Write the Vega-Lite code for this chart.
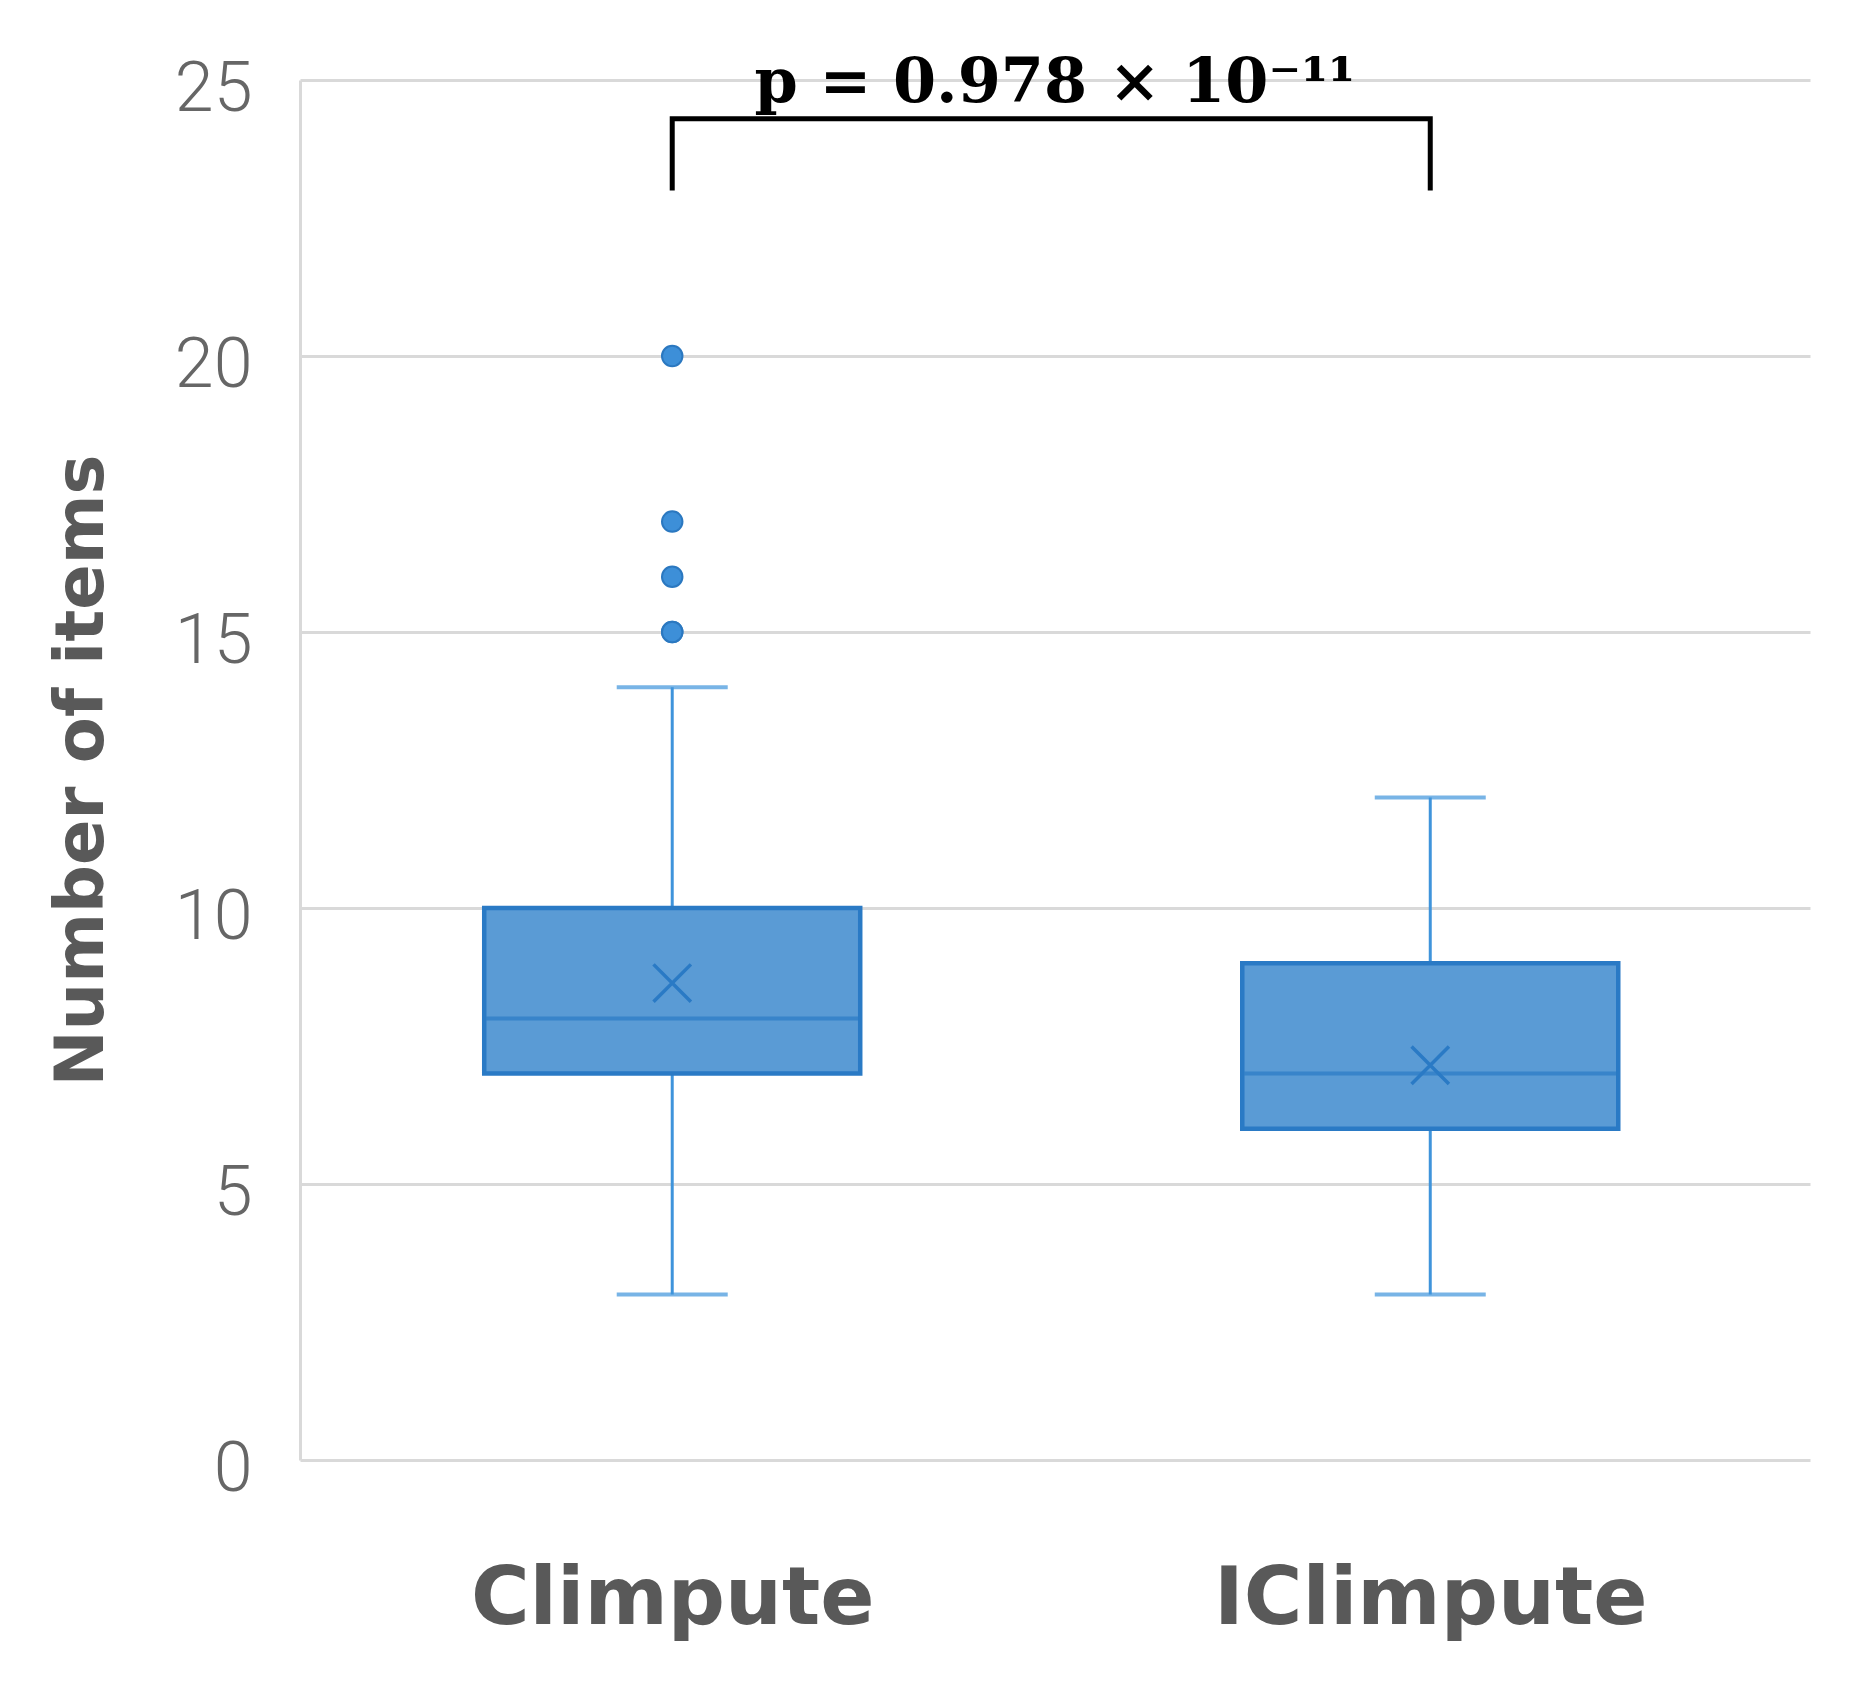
{
  "$schema": "https://vega.github.io/schema/vega-lite/v6.json",
  "autosize": {"type": "none"},
  "width": 1510,
  "height": 1380,
  "padding": {"left": 300, "top": 80, "right": 54, "bottom": 236},
  "background": "white",
  "title": {
    "text": "p = 0.978 × 10⁻¹¹",
    "font": "DejaVu Serif",
    "fontWeight": "bold",
    "fontSize": 62,
    "color": "#000000",
    "anchor": "middle",
    "frame": "group",
    "baseline": "alphabetic",
    "offset": 0,
    "dy": 110
  },
  "config": {
    "view": {"stroke": null},
    "axis": {"gridColor": "#D9D9D9", "gridWidth": 3}
  },
  "datasets": {
    "summary": [
      {"group": "Climpute", "lower": 3, "q1": 7, "median": 8, "q3": 10, "upper": 14, "mean": 8.64},
      {"group": "IClimpute", "lower": 3, "q1": 6, "median": 7, "q3": 9, "upper": 12, "mean": 7.15}
    ],
    "outliers": [
      {"group": "Climpute", "value": 15},
      {"group": "Climpute", "value": 15},
      {"group": "Climpute", "value": 16},
      {"group": "Climpute", "value": 17},
      {"group": "Climpute", "value": 20}
    ],
    "bracket": [
      {"group": "Climpute", "y": 23, "order": 1},
      {"group": "Climpute", "y": 24.3, "order": 2},
      {"group": "IClimpute", "y": 24.3, "order": 3},
      {"group": "IClimpute", "y": 23, "order": 4}
    ]
  },
  "encoding": {
    "x": {
      "field": "group",
      "type": "nominal",
      "sort": ["Climpute", "IClimpute"],
      "scale": {"type": "point", "padding": 0.496, "align": 0.495},
      "axis": {
        "title": null,
        "labelAngle": 0,
        "labelFont": "DejaVu Sans",
        "labelFontWeight": "bold",
        "labelFontSize": 80,
        "labelColor": "#595959",
        "labelBaseline": "alphabetic",
        "labelPadding": 163,
        "labelLimit": 0,
        "ticks": false,
        "tickSize": 0,
        "domain": false,
        "grid": false
      }
    }
  },
  "layer": [
    {
      "data": {"name": "summary"},
      "mark": {"type": "rule", "color": "#3F94DB", "strokeWidth": 3},
      "encoding": {
        "y": {
          "field": "lower",
          "type": "quantitative",
          "scale": {"domain": [0, 25], "nice": false},
          "axis": {
            "title": "Number of items",
            "titleFont": "DejaVu Sans",
            "titleFontWeight": "bold",
            "titleFontSize": 67,
            "titleColor": "#595959",
            "titlePadding": 58,
            "values": [0, 5, 10, 15, 20, 25],
            "labelFont": "Roboto",
            "labelFontWeight": 300,
            "labelFontSize": 70,
            "labelColor": "#666666",
            "labelPadding": 48,
            "labelOffset": 9,
            "ticks": false,
            "tickSize": 0,
            "domain": true,
            "domainColor": "#D9D9D9",
            "domainWidth": 3,
            "grid": true
          }
        },
        "y2": {"field": "upper"}
      }
    },
    {
      "data": {"name": "summary"},
      "mark": {"type": "tick", "color": "#3F94DB", "size": 111, "thickness": 4},
      "encoding": {"y": {"field": "lower", "type": "quantitative"}}
    },
    {
      "data": {"name": "summary"},
      "mark": {"type": "tick", "color": "#3F94DB", "size": 111, "thickness": 4},
      "encoding": {"y": {"field": "upper", "type": "quantitative"}}
    },
    {
      "data": {"name": "summary"},
      "mark": {"type": "bar", "size": 376, "fill": "#5A9BD5", "stroke": "#2A7AC5", "strokeWidth": 4.5},
      "encoding": {
        "y": {"field": "q1", "type": "quantitative"},
        "y2": {"field": "q3"}
      }
    },
    {
      "data": {"name": "summary"},
      "mark": {"type": "tick", "color": "#2A7AC5", "size": 372, "thickness": 4},
      "encoding": {"y": {"field": "median", "type": "quantitative"}}
    },
    {
      "data": {"name": "summary"},
      "mark": {"type": "point", "shape": "M-1,-1L1,1M-1,1L1,-1", "filled": false, "size": 1400, "stroke": "#2A7AC5", "strokeWidth": 3.5, "opacity": 1},
      "encoding": {"y": {"field": "mean", "type": "quantitative"}}
    },
    {
      "data": {"name": "outliers"},
      "mark": {"type": "circle", "size": 420, "fill": "#3D8FD8", "stroke": "#2B78C0", "strokeWidth": 2, "opacity": 1},
      "encoding": {"y": {"field": "value", "type": "quantitative"}}
    },
    {
      "data": {"name": "bracket"},
      "mark": {"type": "line", "color": "#000000", "strokeWidth": 5, "strokeJoin": "miter", "strokeCap": "butt"},
      "encoding": {
        "y": {"field": "y", "type": "quantitative"},
        "order": {"field": "order", "type": "quantitative"}
      }
    }
  ]
}
